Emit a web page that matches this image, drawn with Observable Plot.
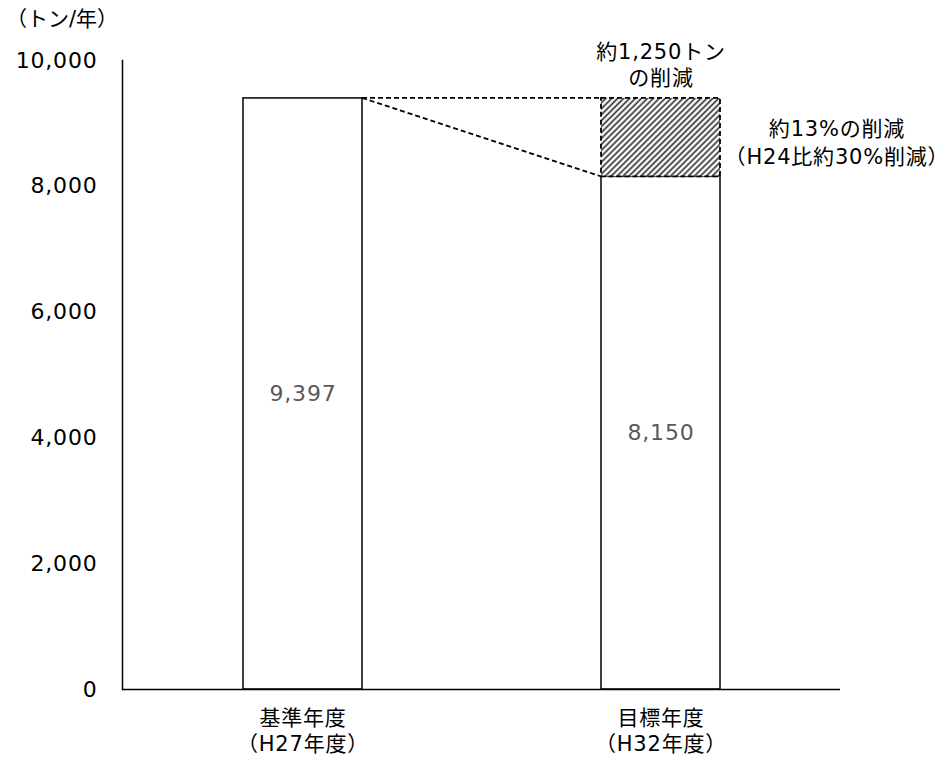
<!DOCTYPE html>
<html><head><meta charset="utf-8">
<script src="https://cdn.jsdelivr.net/npm/d3@7"></script>
<script src="https://cdn.jsdelivr.net/npm/@observablehq/plot@0.6"></script>
<style>
body{margin:0;background:#fff;font-family:"DejaVu Sans","Noto Sans CJK JP",sans-serif;}
#title{height:30px;box-sizing:border-box;padding:9px 0 0 6px;font-size:21px;line-height:1;color:#000;white-space:nowrap;}
#chart svg text{letter-spacing:0.8px;}
</style></head><body>
<div id="title">（トン/年）</div>
<div id="chart"></div>
<script>
// ---- data ----
const categoryNames = ["基準年度", "目標年度"];
const categoryYears = ["（H27年度）", "（H32年度）"];
const emissions = [9397, 8150];
const valueLabels = ["9,397", "8,150"];
const yTicks = [0, 2000, 4000, 6000, 8000, 10000];
const reductionLabel = "約1,250トン\nの削減";
const percentLabel = "約13%の削減\n（H24比約30%削減）";

// ---- tables built from data ----
const categories = categoryNames.map((n, i) => n + "\n" + categoryYears[i]);
const bars = categories.map((c, i) => ({cat: c, value: emissions[i], label: valueLabels[i]}));
const reduction = [{cat: categories[1], top: emissions[0], bottom: emissions[1]}];

const font = "'DejaVu Sans','Noto Sans CJK JP',sans-serif";

const connectors = (index, scales) => {
  const x = scales.x, y = scales.y;
  const bw = typeof x.bandwidth === "function" ? x.bandwidth() : x.bandwidth;
  const xa = x(categories[0]) + bw, xb = x(categories[1]);
  const yTop = y(emissions[0]), yLow = y(emissions[1]);
  const g = d3.create("svg:g")
    .attr("fill", "none").attr("stroke", "#000")
    .attr("stroke-width", 1.8).attr("stroke-dasharray", "5,3");
  g.append("line").attr("x1", xa).attr("x2", xb).attr("y1", yTop).attr("y2", yTop);
  g.append("line").attr("x1", xa).attr("x2", xb).attr("y1", yTop).attr("y2", yLow);
  return g.node();
};

const chart = Plot.plot({
  width: 950,
  height: 731,
  marginTop: 30,
  marginBottom: 72,
  marginLeft: 122,
  marginRight: 110,
  style: {fontFamily: font, fontSize: "21px", color: "#000", background: "#fff", overflow: "visible"},
  x: {type: "band", domain: categories, paddingInner: 0.668, paddingOuter: 0.335, label: null},
  y: {domain: [0, 10000], label: null},
  marks: [
    Plot.barY(bars, {x: "cat", y: "value", fill: "white", stroke: "#000", strokeWidth: 1.5}),
    Plot.barY(reduction, {x: "cat", y1: "bottom", y2: "top", fill: "url(#hatch)", stroke: "#000", strokeWidth: 1.8, strokeDasharray: "5,3"}),
    connectors,
    Plot.text(bars, {x: "cat", y: d => d.value / 2, text: "label", fill: "#595959", fontSize: 22}),
    Plot.text(reduction, {x: "cat", y: "top", text: () => reductionLabel, lineAnchor: "bottom", dy: -13, lineHeight: 1.25, fontSize: 21}),
    Plot.text(reduction, {x: "cat", y: d => (d.top + d.bottom) / 2, text: () => percentLabel, dx: 176, dy: 3, lineHeight: 1.33, fontSize: 21}),
    Plot.ruleY([0], {strokeWidth: 1.5}),
    Plot.axisY({ticks: yTicks, tickSize: 0, tickPadding: 25, tickFormat: d3.format(","), fontSize: 22, label: null}),
    Plot.axisX({tickSize: 0, tickPadding: 17, lineHeight: 1.24, fontSize: 21, label: null}),
    Plot.frame({anchor: "left", strokeWidth: 1.5})
  ]
});

d3.select(chart).insert("defs", ":first-child").html(
  '<pattern id="hatch" patternUnits="userSpaceOnUse" width="4.2" height="4.2" patternTransform="rotate(45)">' +
  '<rect width="4.2" height="4.2" fill="#fff"/>' +
  '<line x1="2.1" y1="0" x2="2.1" y2="4.2" stroke="#333" stroke-width="1.7"/></pattern>'
);

document.getElementById("chart").appendChild(chart);
</script>
</body></html>
